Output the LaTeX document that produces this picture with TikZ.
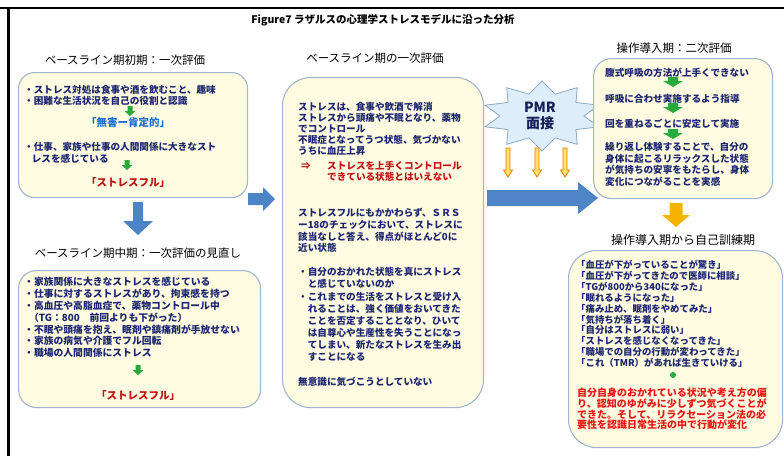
\documentclass[tikz,border=0pt]{standalone}
\usepackage{fontspec}
\setmainfont{Noto Sans CJK JP}
\definecolor{navy}{RGB}{28,38,112}
\definecolor{boxline}{RGB}{160,182,206}
\definecolor{boxfill}{RGB}{255,252,226}
\definecolor{arrblue}{RGB}{76,132,198}
\definecolor{arrgreen}{RGB}{40,170,60}
\definecolor{darkred}{RGB}{190,20,20}
\definecolor{brightred}{RGB}{235,20,20}
\definecolor{okblue}{RGB}{30,110,210}
\definecolor{starfill}{RGB}{222,237,250}
\definecolor{starline}{RGB}{140,170,200}
\definecolor{orangeA}{RGB}{245,180,0}
\definecolor{orangeline}{RGB}{235,120,0}
\definecolor{yellowA}{RGB}{255,225,110}
\newcommand\arrdown[7]{\path[#7] ({#1-#4/2},#2) -- ({#1+#4/2},#2) -- ({#1+#4/2},{#3-#6}) -- ({#1+#5/2},{#3-#6}) -- (#1,#3) -- ({#1-#5/2},{#3-#6}) -- ({#1-#4/2},{#3-#6}) -- cycle;}
\newcommand\arrright[7]{\path[#7] (#2,{#1-#4/2}) -- ({#3-#6},{#1-#4/2}) -- ({#3-#6},{#1-#5/2}) -- (#3,#1) -- ({#3-#6},{#1+#5/2}) -- ({#3-#6},{#1+#4/2}) -- (#2,{#1+#4/2}) -- cycle;}
\tikzset{
  box/.style={draw=boxline, line width=1.1pt, fill=boxfill, anchor=north west, inner sep=0pt},
  heading/.style={font=\fontsize{11.5}{13}\selectfont, text=black, inner sep=0pt, anchor=center},
  body/.style={font=\fontsize{9.6}{#1}\selectfont\bfseries, text=navy, align=left, inner sep=0pt, anchor=west},
  body/.default=11,
  rbody/.style={font=\fontsize{9.6}{#1}\selectfont\bfseries, text=darkred, align=left, inner sep=0pt, anchor=west},
  rbody/.default=11,
  keyword/.style={font=\fontsize{10.5}{12}\selectfont\bfseries, inner sep=0pt, anchor=center},
}
\begin{document}
\begin{tikzpicture}[x=1pt,y=-1pt]
\useasboundingbox (0,0) rectangle (784,456);
\fill[white] (0,0) rectangle (784,456);
% frame
\draw[line width=2.5pt] (0,8) -- (784,8);
\draw[line width=3pt] (8,8) -- (8,456);
% title
\node[font=\fontsize{10.5}{12}\selectfont\bfseries, inner sep=0pt] (title) at (383,20) {Figure7 ラザルスの心理学ストレスモデルに沿った分析};

% ---------- left column ----------
\node[heading] (h1) at (125,60) {ベースライン期初期：一次評価};
\node[box, rounded corners=16pt, minimum width=229pt, minimum height=125pt] (b1) at (18,72) {};
\node[body=11] (b1t1) at (24,95) {・ストレス対処は食事や酒を飲むこと、趣味\\・困難な生活状況を自己の役割と認識};
\node[keyword, text=okblue] (b1k1) at (128,123) {「無害ー肯定的」};
\node[body=12] (b1t2) at (24,153) {・仕事、家族や仕事の人間関係に大きなスト\\\hspace*{0.8em}レスを感じている};
\node[keyword, text=darkred] (b1k2) at (128,183) {「ストレスフル」};
\arrdown{130}{106}{116}{5}{11}{5}{fill=arrgreen}
\arrdown{127}{160}{170}{5}{11}{5}{fill=arrgreen}

\arrdown{138}{202}{235}{10}{30}{14}{fill=arrblue}

\node[heading] (h2) at (138,253) {ベースライン期中期：一次評価の見直し};
\node[box, rounded corners=18pt, minimum width=242pt, minimum height=137pt] (b2) at (18,270) {};
\node[body=11.83, font=\fontsize{9.8}{11.83}\selectfont\bfseries] (b2t) at (24,317.5) {・家族関係に大きなストレスを感じている\\・仕事に対するストレスがあり、拘束感を持つ\\・高血圧や高脂血症で、薬物コントロール中\\\hspace*{0.5em}（TG：800　前回よりも下がった）\\・不眠や頭痛を抱え、眠剤や鎮痛剤が手放せない\\・家族の病気や介護でフル回転\\・職場の人間関係にストレス};
\arrdown{138}{365}{375}{5}{11}{5}{fill=arrgreen}
\node[keyword, text=darkred] (b2k) at (138,395) {「ストレスフル」};

% arrow left -> middle
\arrright{199}{248}{275}{12}{24}{12}{fill=arrblue}

% ---------- middle column ----------
\node[heading] (h3) at (375,58) {ベースライン期の一次評価};
\node[box, rounded corners=28pt, minimum width=201pt, minimum height=330pt] (b3) at (282,77) {};
\node[body=11] (b3t1) at (298,129) {ストレスは、食事や飲酒で解消\\ストレスから頭痛や不眠となり、薬物\\でコントロール\\不眠症となってうつ状態、気づかない\\うちに血圧上昇};
\node[rbody, anchor=center] (b3arr) at (306,166) {⇒};
\node[rbody=11] (b3r) at (327,171.5) {ストレスを上手くコントロール\\できている状態とはいえない};
\node[body=11.67] (b3t2) at (298,230.5) {ストレスフルにもかかわらず、ＳＲＳ\\ー18のチェックにおいて、ストレスに\\該当なしと答え、得点がほとんど0に\\近い状態};
\node[body=12.1] (b3t3) at (298,314.5) {・自分のおかれた状態を真にストレス\\\hspace*{1em}と感じていないのか\\・これまでの生活をストレスと受け入\\\hspace*{1em}れることは、強く価値をおいてきた\\\hspace*{1em}ことを否定することとなり、ひいて\\\hspace*{1em}は自尊心や生産性を失うことになっ\\\hspace*{1em}てしまい、新たなストレスを生み出\\\hspace*{1em}すことになる};
\node[body] (b3t4) at (298,382) {無意識に気づこうとしていない};

% ---------- PMR star ----------
\begin{scope}[shift={(542,116)}]
\draw[fill=starfill, draw=starline, line width=0.8pt] (90:36 and 35) -- (108:42 and 23) -- (126:60 and 35) -- (144:42 and 23) -- (162:60 and 35) -- (180:42 and 23) -- (198:60 and 35) -- (216:42 and 23) -- (234:60 and 35) -- (252:42 and 23) -- (270:36 and 35) -- (288:42 and 23) -- (306:60 and 35) -- (324:42 and 23) -- (342:60 and 35) -- (0:42 and 23) -- (18:60 and 35) -- (36:42 and 23) -- (54:60 and 35) -- (72:42 and 23) -- cycle;
\end{scope}
\node[font=\fontsize{14}{16}\selectfont\bfseries, text=navy!80!black, align=center, inner sep=0pt] (pmr) at (540,116) {PMR\\面接};
\arrdown{508}{148}{177}{4}{9}{7}{fill=yellowA, draw=orangeline, line width=0.8pt}
\arrdown{537}{148}{177}{4}{9}{7}{fill=yellowA, draw=orangeline, line width=0.8pt}
\arrdown{565}{148}{177}{4}{9}{7}{fill=yellowA, draw=orangeline, line width=0.8pt}

% arrow middle -> right
\arrright{198}{487}{598}{16}{32}{20}{fill=arrblue}

% ---------- right column ----------
\node[heading] (h4) at (674,48) {操作導入期：二次評価};
\node[box, rounded corners=18pt, minimum width=179pt, minimum height=140pt] (b4) at (593,58) {};
\node[body] (b4l1) at (605,73) {腹式呼吸の方法が上手くできない};
\node[body] (b4l2) at (605,99) {呼吸に合わせ実施するよう指導};
\node[body] (b4l3) at (605,124) {回を重ねるごとに安定して実施};
\node[body=11.67] (b4t) at (605,164.5) {繰り返し体験することで、自分の\\身体に起こるリラックスした状態\\が気持ちの安寧をもたらし、身体\\変化につながることを実感};
\arrdown{673}{77}{87}{10}{20}{6}{fill=arrgreen}
\arrdown{673}{103}{113}{10}{20}{6}{fill=arrgreen}
\arrdown{673}{129}{139}{10}{20}{6}{fill=arrgreen}

\arrdown{676}{203}{227}{13}{28}{12}{fill=orangeA}

\node[heading, font=\fontsize{12}{14}\selectfont] (h5) at (683,240) {操作導入期から自己訓練期};
\node[box, rounded corners=28pt, minimum width=214pt, minimum height=197pt] (b5) at (568,250) {};
\node[body=10.9, font=\fontsize{9.4}{10.9}\selectfont\bfseries] (b5t) at (576,314) {「血圧が下がっていることが驚き」\\「血圧が下がってきたので医師に相談」\\「TGが800から340になった」\\「眠れるようになった」\\「痛み止め、眠剤をやめてみた」\\「気持ちが落ち着く」\\「自分はストレスに弱い」\\「ストレスを感じなくなってきた」\\「職場での自分の行動が変わってきた」\\「これ（TMR）があれば生きていける」};
\fill[arrgreen] (673,375) circle (3);
\node[rbody=10.7, text=brightred, font=\fontsize{10}{10.7}\selectfont\bfseries] (b5r) at (577,409) {自分自身のおかれている状況や考え方の偏\\り、認知のゆがみに少しずつ気づくことが\\できた。そして、リラクセーション法の必\\要性を認識日常生活の中で行動が変化};
\end{tikzpicture}
\end{document}
